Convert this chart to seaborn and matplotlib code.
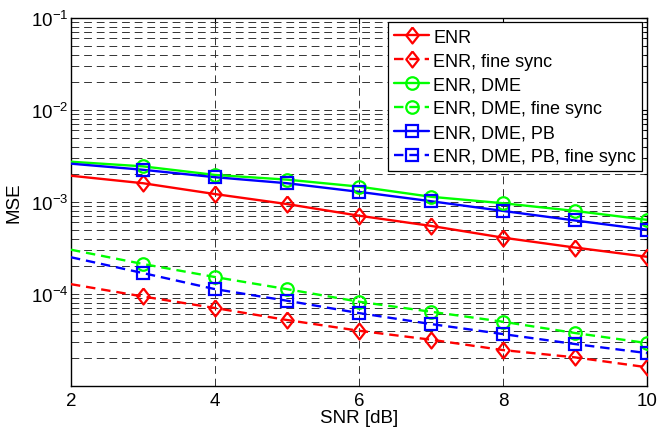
import matplotlib
matplotlib.use("Agg")
import matplotlib.pyplot as plt
from matplotlib.lines import Line2D
import seaborn as sns
import pandas as pd
import numpy as np

snr = [2, 3, 4, 5, 6, 7, 8, 9, 10]
enr = [1.93e-3, 1.60e-3, 1.22e-3, 0.95e-3, 0.71e-3, 0.55e-3, 0.41e-3, 0.32e-3, 0.254e-3]
enr_fine = [1.28e-4, 9.4e-5, 7.05e-5, 5.22e-5, 3.99e-5, 3.19e-5, 2.46e-5, 2.05e-5, 1.60e-5]
enr_dme = [2.74e-3, 2.44e-3, 1.97e-3, 1.75e-3, 1.47e-3, 1.14e-3, 0.97e-3, 0.80e-3, 0.64e-3]
enr_dme_fine = [3.03e-4, 2.12e-4, 1.53e-4, 1.13e-4, 8.25e-5, 6.42e-5, 5.0e-5, 3.77e-5, 2.93e-5]
enr_dme_pb = [2.61e-3, 2.24e-3, 1.86e-3, 1.60e-3, 1.29e-3, 1.02e-3, 0.80e-3, 0.63e-3, 0.50e-3]
enr_dme_pb_fine = [2.51e-4, 1.69e-4, 1.13e-4, 8.46e-5, 6.21e-5, 4.72e-5, 3.67e-5, 2.86e-5, 2.28e-5]

labels = ["ENR", "ENR, fine sync", "ENR, DME", "ENR, DME, fine sync",
          "ENR, DME, PB", "ENR, DME, PB, fine sync"]
series = [enr, enr_fine, enr_dme, enr_dme_fine, enr_dme_pb, enr_dme_pb_fine]

sns.set_style("white")
plt.rcParams["font.family"] = ["Liberation Sans", "DejaVu Sans"]
plt.rcParams["mathtext.fontset"] = "custom"
plt.rcParams["mathtext.rm"] = "Liberation Sans"
plt.rcParams["mathtext.it"] = "Liberation Sans"
plt.rcParams["text.color"] = "black"
plt.rcParams["axes.labelcolor"] = "black"
plt.rcParams["xtick.color"] = "black"
plt.rcParams["ytick.color"] = "black"
plt.rcParams["legend.labelcolor"] = "black"

diamond = [(0, 1), (0.78, 0), (0, -1), (-0.78, 0), (0, 1)]
colors = ["#ff0000", "#ff0000", "#00ff00", "#00ff00", "#0000ff", "#0000ff"]
markers = [diamond, diamond, "o", "o", "s", "s"]
msizes = [11.5, 11.5, 9, 9, 8.5, 8.5]
styles = ["-", (0, (4, 2.5)), "-", (0, (4, 2.5)), "-", (0, (4, 2.5))]

fig = plt.figure(figsize=(6.69, 4.31), dpi=100)
ax = fig.add_axes([0.106, 0.102, 0.861, 0.854])

handles = []
for lab, vals, c, m, ms, ls in zip(labels, series, colors, markers, msizes, styles):
    df = pd.DataFrame({"snr": snr, "mse": vals})
    sns.lineplot(data=df, x="snr", y="mse", ax=ax, color=c, linewidth=1.7,
                 linestyle=ls, legend=False, zorder=3)
    sub = df.iloc[1:]
    sns.lineplot(data=sub, x="snr", y="mse", ax=ax, color=c, linestyle="none",
                 marker=m, markersize=ms, markerfacecolor="none",
                 markeredgecolor=c, markeredgewidth=1.6, legend=False, zorder=4)
    handles.append(Line2D([0], [0], color=c, linestyle=ls, linewidth=1.7,
                          marker=m, markersize=ms, markerfacecolor="none",
                          markeredgecolor=c, markeredgewidth=1.6))

ax.set_yscale("log")
ax.set_xlim(2, 10)
ax.set_ylim(1e-5, 1e-1)
ax.set_xticks([2, 4, 6, 8, 10])
ax.set_yticks([1e-4, 1e-3, 1e-2, 1e-1])
ax.set_yticklabels([r"$10^{-4}$", r"$10^{-3}$", r"$10^{-2}$", r"$10^{-1}$"])
ax.yaxis.set_minor_locator(matplotlib.ticker.LogLocator(base=10, subs=np.arange(2, 10), numticks=20))
ax.yaxis.set_minor_formatter(matplotlib.ticker.NullFormatter())

gkw = dict(color="#333333", linewidth=0.7, linestyle=(0, (8, 5)))
ax.grid(True, which="major", axis="both", **gkw)
ax.grid(True, which="minor", axis="y", **gkw)
ax.set_axisbelow(True)

ax.tick_params(which="both", direction="in", top=True, right=True, labelsize=13.5,
               length=4, width=0.8, colors="black")
ax.tick_params(axis="y", pad=2)
ax.tick_params(axis="x", pad=4)
ax.tick_params(which="minor", length=2)
for s in ax.spines.values():
    s.set_color("black")
    s.set_linewidth(1.0)

ax.set_xlabel("SNR [dB]", fontsize=13.5, labelpad=0, color="black")
ax.set_ylabel("MSE", fontsize=13.5, labelpad=6, color="black")

leg = ax.legend(handles, labels, loc="upper right", fontsize=13, frameon=True,
                fancybox=False, edgecolor="black", framealpha=1,
                handlelength=1.9, handletextpad=0.25, labelspacing=0.38,
                borderaxespad=0.25, borderpad=0.35)
leg.get_frame().set_linewidth(0.9)
for t in leg.get_texts():
    t.set_color("black")

fig.savefig("out.png", dpi=100)
